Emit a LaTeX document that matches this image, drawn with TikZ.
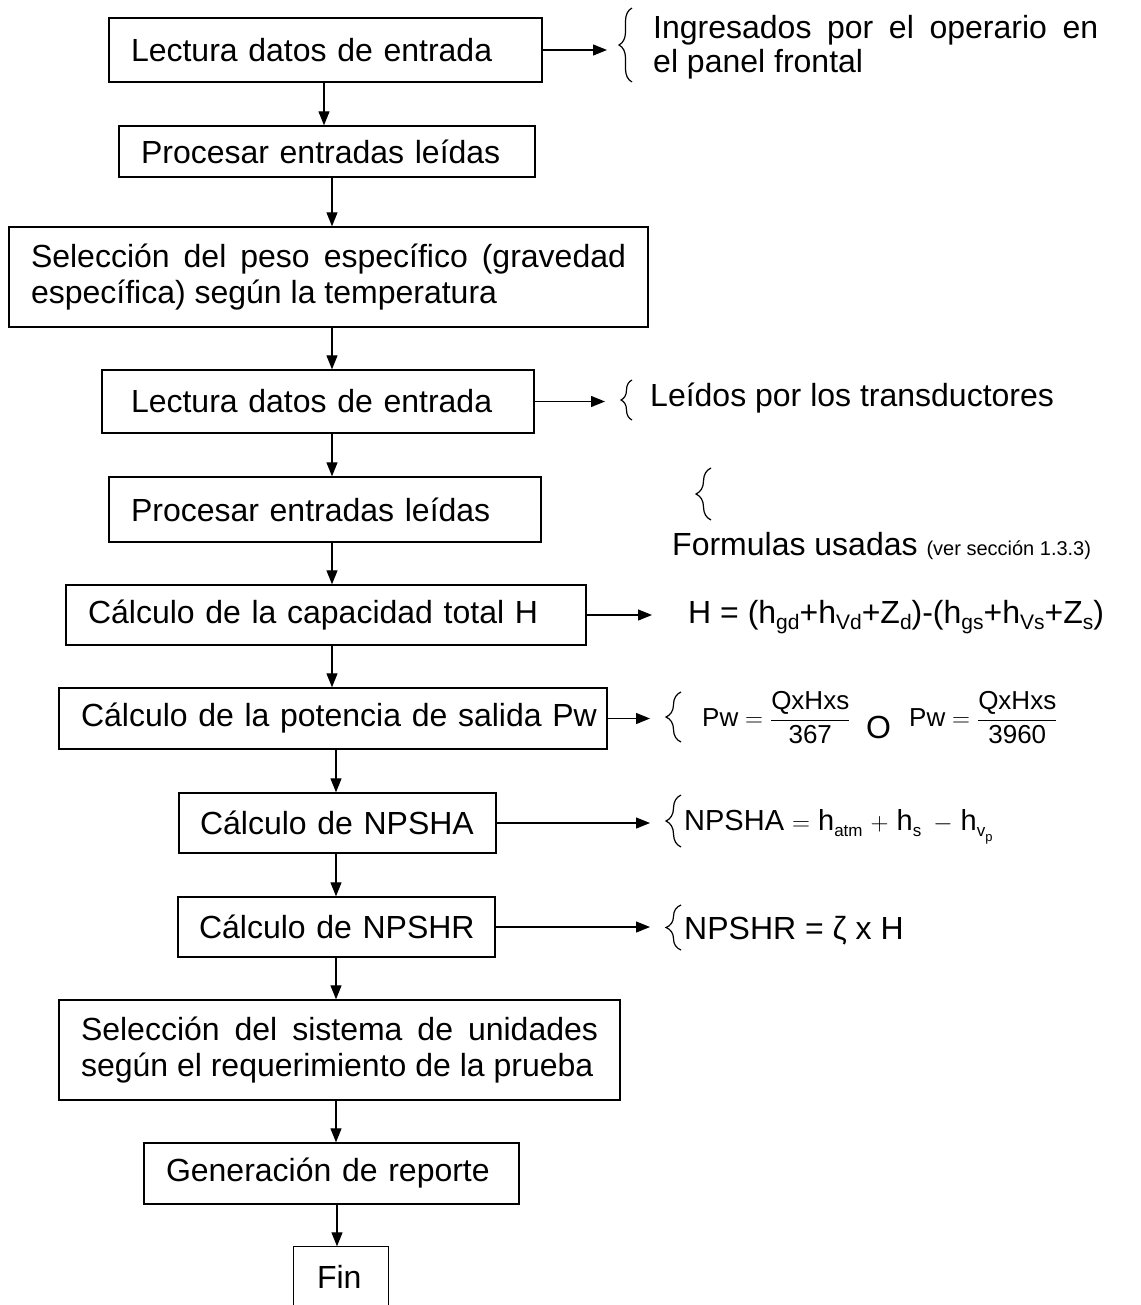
\documentclass[tikz,border=0pt]{standalone}
\usepackage{fontspec}
\setmainfont{Liberation Sans}
\usetikzlibrary{arrows.meta,decorations.pathreplacing}
\newcommand\mainsz{\fontsize{32pt}{36pt}\selectfont}
\newcommand\lowsub[3]{\raisebox{-#1pt}{\fontsize{#2pt}{#2pt}\selectfont #3}}
\begin{document}
\begin{tikzpicture}[x=1pt,y=-1pt,
  stepbox/.style={draw, line width=1.4pt, inner xsep=22pt, inner ysep=0pt, align=left, font=\mainsz},
  flow/.style={line width=1.2pt, -{Triangle[length=14pt,width=11pt]}},
  brc/.style={line width=1.2pt, decorate, decoration={brace, amplitude=#1}},
  brc/.default=14pt,
  lbl/.style={inner sep=0pt, font=\mainsz}]
\useasboundingbox (0,0) rectangle (1140,1305);

% boxes
\node[stepbox, text width=389pt, minimum height=64pt] (b1) at (325.5,50) {\mbox{Lectura datos de entrada}};
\node[stepbox, text width=372pt, minimum height=51pt] (b2) at (327,151.5) {\mbox{Procesar entradas leídas}};
\node[stepbox, text width=595pt, minimum height=100pt, align=justify] (b3) at (328.5,277) {Selección del peso específico (gravedad\linebreak específica) según la temperatura};
\node[stepbox, inner xsep=29pt, text width=374pt, minimum height=63pt] (b4) at (318,401.5) {\mbox{Lectura datos de entrada}};
\node[stepbox, text width=388pt, minimum height=65pt] (b5) at (325,509.5) {\mbox{Procesar entradas leídas}};
\node[stepbox, text width=476pt, minimum height=60pt] (b6) at (326,615) {\mbox{Cálculo de la capacidad total H}};
\node[stepbox, text width=504pt, minimum height=61pt] (b7) at (333,718.5) {\mbox{Cálculo de la potencia de salida Pw}};
\node[stepbox, inner xsep=21pt, text width=275pt, minimum height=60pt] (b8) at (337.5,823) {\mbox{Cálculo de NPSHA}};
\node[stepbox, inner xsep=21pt, text width=275pt, minimum height=60pt] (b9) at (336.5,927) {\mbox{Cálculo de NPSHR}};
\node[stepbox, text width=517pt, minimum height=100pt, align=justify] (b10) at (339.5,1050) {Selección del sistema de unidades\linebreak según el requerimiento de la prueba};
\node[stepbox, text width=331pt, minimum height=61pt] (b11) at (331.5,1173.5) {\mbox{Generación de reporte}};
\node[stepbox, draw=none, inner xsep=23pt, text width=48pt, minimum height=60pt] (fin) at (341,1277) {\mbox{Fin}};
\draw[line width=1.4pt] (fin.south west) -- (fin.north west) -- (fin.north east) -- (fin.south east);

% vertical flow
\draw[flow] ([xshift=-1.5pt]b1.south) -- ([xshift=-1.5pt]b1.south |- b2.north);
\draw[flow] ([xshift=5pt]b2.south) -- ([xshift=5pt]b2.south |- b3.north);
\draw[flow] ([xshift=3.5pt]b3.south) -- ([xshift=3.5pt]b3.south |- b4.north);
\draw[flow] ([xshift=14pt]b4.south) -- ([xshift=14pt]b4.south |- b5.north);
\draw[flow] ([xshift=7pt]b5.south) -- ([xshift=7pt]b5.south |- b6.north);
\draw[flow] ([xshift=6pt]b6.south) -- ([xshift=6pt]b6.south |- b7.north);
\draw[flow] ([xshift=3pt]b7.south) -- ([xshift=3pt]b7.south |- b8.north);
\draw[flow] ([xshift=-1.5pt]b8.south) -- ([xshift=-1.5pt]b8.south |- b9.north);
\draw[flow] ([xshift=-0.5pt]b9.south) -- ([xshift=-0.5pt]b9.south |- b10.north);
\draw[flow] ([xshift=-3.5pt]b10.south) -- ([xshift=-3.5pt]b10.south |- b11.north);
\draw[flow] ([xshift=5.5pt]b11.south) -- ([xshift=5.5pt]b11.south |- fin.north);

% side arrows
\coordinate (t1) at (607,47);
\coordinate (t4) at (605,402);
\coordinate (t6) at (652,612);
\coordinate (t7) at (650,717);
\coordinate (t8) at (650,819);
\coordinate (t9) at (650,927);
\draw[flow] (b1.east) -- (b1.east -| t1);
\draw[flow] (b4.east) -- (b4.east -| t4);
\draw[flow] (b6.east) -- (b6.east -| t6);
\draw[flow] (b7.east) -- (b7.east -| t7);
\draw[flow] (b8.east) -- (b8.east -| t8);
\draw[flow] (b9.east) -- (b9.east -| t9);

% braces
\draw[brc=13pt] (632,82) -- (632,8);
\draw[brc=11pt] (632,420) -- (632,380);
\draw[brc=15pt] (711,520) -- (711,468);
\draw[brc=15pt] (681,742) -- (681,692);
\draw[brc=15pt] (681,847) -- (681,795);
\draw[brc=15pt] (681,950) -- (681,905);

% side texts
\node[lbl, anchor=base west, text width=445pt, align=justify, font=\fontsize{32pt}{34pt}\selectfont] (ing) at (653,38.5) {Ingresados por el operario en\linebreak el panel frontal};
\node[lbl, anchor=base west] (lei) at (650,406) {Leídos por los transductores};
\node[lbl, anchor=base west] (form) at (672,555) {Formulas usadas {\fontsize{20pt}{22pt}\selectfont (ver sección 1.3.3)}};
\node[lbl, anchor=base west] (hf) at (688,623) {H = (h\lowsub{6}{21}{gd}+h\lowsub{6}{21}{Vd}+Z\lowsub{6}{21}{d})-(h\lowsub{6}{21}{gs}+h\lowsub{6}{21}{Vs}+Z\lowsub{6}{21}{s})};
\node[lbl, anchor=base west, font=\fontsize{26pt}{30pt}\selectfont] (pw1) at (702,726) {$\displaystyle\mbox{Pw}=\frac{\mbox{QxHxs}}{\mbox{367}}$};
\node[lbl, anchor=base west] (oo) at (866,738) {O};
\node[lbl, anchor=base west, font=\fontsize{26pt}{30pt}\selectfont] (pw2) at (909,726) {$\displaystyle\mbox{Pw}=\frac{\mbox{QxHxs}}{\mbox{3960}}$};
\node[lbl, anchor=base west, font=\fontsize{29pt}{32pt}\selectfont] (npa) at (684,830) {NPSHA $=$ h\lowsub{6}{17}{atm} $+$ h\lowsub{6}{17}{s}\hspace{12pt}$-$ h\lowsub{6}{17}{v\lowsub{5}{13}{p}}};
\node[lbl, anchor=base west] (npr) at (684,939) {NPSHR = ζ x H};
\end{tikzpicture}
\end{document}
